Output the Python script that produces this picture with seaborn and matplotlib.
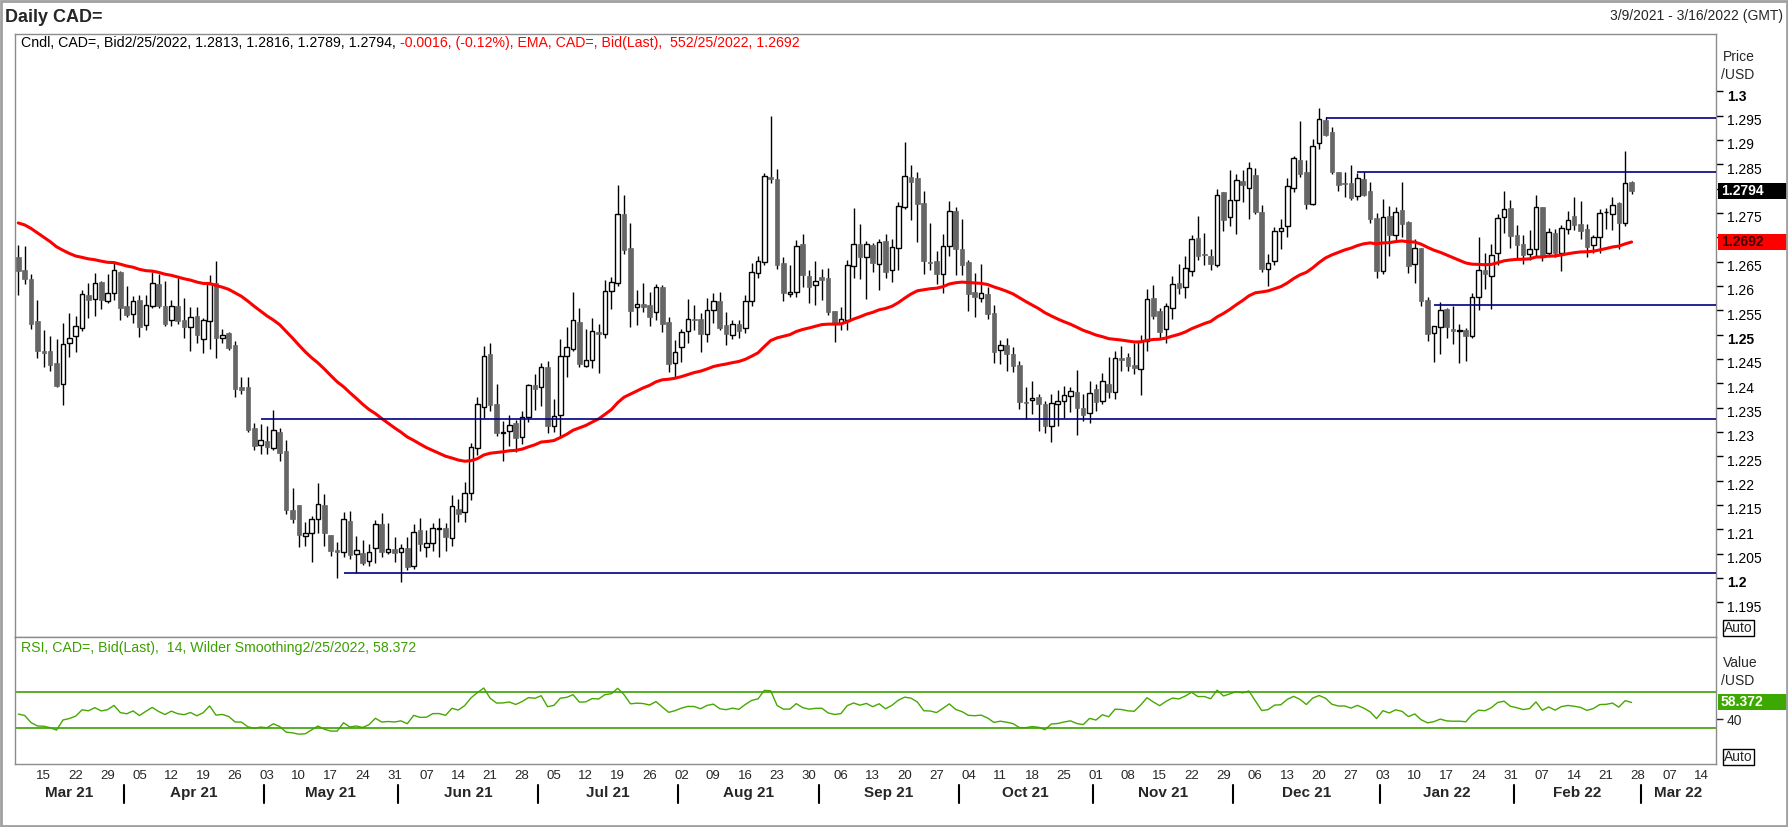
import numpy as np
import pandas as pd
import matplotlib
matplotlib.use("Agg")
import matplotlib.pyplot as plt
import seaborn as sns
from matplotlib.patches import Rectangle
from matplotlib import transforms as mtrans

# ---------------- data ----------------
start_date = "2021-03-09"
axis_end_date = "2022-03-16"

opens = [
1.2659,1.2633,1.2614,1.2528,1.2466,1.2466,1.2442,1.2398,1.2482,1.2498,
1.2513,1.2581,1.2573,1.2608,1.2568,1.2585,1.2629,1.2559,1.2542,1.2571,
1.2519,1.2559,1.2603,1.2559,1.2529,1.2559,1.2530,1.2515,1.2538,1.2490,
1.2527,1.2605,1.2492,1.2503,1.2479,1.2392,1.2392,1.2308,1.2274,1.2281,
1.2268,1.2300,1.2261,1.2140,1.2150,1.2087,1.2092,1.2122,1.2150,1.2088,
1.2057,1.2054,1.2117,1.2050,1.2051,1.2034,1.2061,1.2110,1.2053,1.2059,
1.2053,1.2061,1.2024,1.2098,1.2064,1.2071,1.2101,1.2102,1.2083,1.2142,
1.2135,1.2174,1.2268,1.2352,1.2460,1.2357,1.2298,1.2302,1.2318,1.2289,
1.2330,1.2396,1.2392,1.2433,1.2313,1.2334,1.2457,1.2471,1.2526,1.2435,
1.2447,1.2505,1.2502,1.2589,1.2605,1.2747,1.2678,1.2556,1.2562,1.2560,
1.2546,1.2598,1.2526,1.2441,1.2474,1.2507,1.2533,1.2532,1.2502,1.2550,
1.2568,1.2519,1.2500,1.2521,1.2513,1.2568,1.2626,1.2650,1.2824,1.2820,
1.2647,1.2583,1.2587,1.2686,1.2621,1.2601,1.2618,1.2616,1.2548,1.2523,
1.2531,1.2640,1.2687,1.2660,1.2684,1.2646,1.2692,1.2632,1.2677,1.2763,
1.2824,1.2822,1.2770,1.2650,1.2651,1.2625,1.2683,1.2753,1.2676,1.2649,
1.2587,1.2576,1.2583,1.2544,1.2468,1.2478,1.2460,1.2437,1.2362,1.2365,
1.2372,1.2357,1.2313,1.2357,1.2363,1.2373,1.2382,1.2350,1.2338,1.2388,
1.2363,1.2398,1.2383,1.2452,1.2455,1.2437,1.2430,1.2486,1.2575,1.2548,
1.2511,1.2554,1.2607,1.2597,1.2630,1.2698,1.2665,1.2661,1.2644,1.2793,
1.2741,1.2776,1.2815,1.2802,1.2828,1.2752,1.2634,1.2652,1.2712,1.2724,
1.2802,1.2859,1.2834,1.2769,1.2893,1.2941,1.2916,1.2834,1.2811,1.2811,
1.2784,1.2820,1.2795,1.2739,1.2630,1.2744,1.2704,1.2756,1.2731,1.2646,
1.2678,1.2571,1.2504,1.2515,1.2552,1.2511,1.2508,1.2509,1.2498,1.2578,
1.2633,1.2620,1.2667,1.2741,1.2760,1.2704,1.2687,1.2666,1.2675,1.2762,
1.2668,1.2709,1.2667,1.2717,1.2744,1.2727,1.2717,1.2685,1.2700,1.2751,
1.2747,1.2770,1.2730,1.2813]

highs = [
1.2684,1.2682,1.2624,1.2571,1.2509,1.2497,1.2490,1.2523,1.2544,1.2538,
1.2592,1.2606,1.2626,1.2610,1.2624,1.2648,1.2630,1.2600,1.2579,1.2581,
1.2581,1.2629,1.2625,1.2610,1.2571,1.2617,1.2575,1.2557,1.2557,1.2535,
1.2622,1.2651,1.2512,1.2505,1.2486,1.2412,1.2413,1.2318,1.2316,1.2312,
1.2345,1.2308,1.2283,1.2185,1.2150,1.2116,1.2128,1.2195,1.2172,1.2088,
1.2073,1.2135,1.2138,1.2087,1.2078,1.2070,1.2119,1.2133,1.2113,1.2085,
1.2070,1.2084,1.2111,1.2124,1.2098,1.2112,1.2124,1.2112,1.2170,1.2163,
1.2197,1.2277,1.2372,1.2476,1.2483,1.2398,1.2322,1.2335,1.2324,1.2343,
1.2398,1.2419,1.2441,1.2446,1.2368,1.2491,1.2515,1.2587,1.2555,1.2511,
1.2535,1.2522,1.2612,1.2618,1.2807,1.2787,1.2729,1.2592,1.2606,1.2587,
1.2603,1.2602,1.2536,1.2489,1.2511,1.2573,1.2560,1.2544,1.2576,1.2585,
1.2587,1.2546,1.2530,1.2530,1.2582,1.2647,1.2661,1.2831,1.2950,1.2840,
1.2660,1.2642,1.2694,1.2707,1.2633,1.2651,1.2635,1.2637,1.2548,1.2557,
1.2653,1.2760,1.2727,1.2692,1.2689,1.2696,1.2707,1.2697,1.2772,1.2895,
1.2848,1.2833,1.2795,1.2729,1.2672,1.2707,1.2774,1.2762,1.2737,1.2653,
1.2626,1.2645,1.2598,1.2561,1.2489,1.2494,1.2474,1.2446,1.2392,1.2404,
1.2378,1.2363,1.2378,1.2387,1.2394,1.2392,1.2427,1.2378,1.2405,1.2399,
1.2421,1.2454,1.2467,1.2476,1.2462,1.2483,1.2499,1.2594,1.2602,1.2554,
1.2565,1.2620,1.2645,1.2661,1.2705,1.2744,1.2709,1.2676,1.2799,1.2793,
1.2838,1.2830,1.2838,1.2855,1.2842,1.2766,1.2665,1.2721,1.2737,1.2822,
1.2867,1.2939,1.2859,1.2902,1.2965,1.2948,1.2926,1.2834,1.2834,1.2848,
1.2831,1.2835,1.2813,1.2750,1.2778,1.2764,1.2763,1.2813,1.2733,1.2696,
1.2678,1.2578,1.2518,1.2566,1.2555,1.2559,1.2522,1.2513,1.2585,1.2700,
1.2667,1.2687,1.2748,1.2796,1.2776,1.2725,1.2704,1.2715,1.2786,1.2762,
1.2720,1.2717,1.2726,1.2754,1.2783,1.2774,1.2727,1.2704,1.2759,1.2760,
1.2783,1.2772,1.2878,1.2816]

lows = [
1.2581,1.2603,1.2511,1.2452,1.2434,1.2426,1.2392,1.2356,1.2453,1.2465,
1.2508,1.2535,1.2539,1.2553,1.2564,1.2572,1.2531,1.2537,1.2523,1.2496,
1.2509,1.2555,1.2555,1.2518,1.2518,1.2522,1.2492,1.2467,1.2482,1.2463,
1.2471,1.2451,1.2482,1.2468,1.2372,1.2379,1.2300,1.2263,1.2255,1.2255,
1.2263,1.2241,1.2132,1.2112,1.2064,1.2066,1.2033,1.2092,1.2066,1.2046,
1.1999,1.2044,1.2040,1.2011,1.2026,1.2025,1.2030,1.2044,1.2050,1.2033,
1.1992,1.2016,1.2018,1.2056,1.2044,1.2056,1.2044,1.2056,1.2065,1.2116,
1.2116,1.2161,1.2252,1.2328,1.2343,1.2292,1.2241,1.2271,1.2259,1.2276,
1.2321,1.2345,1.2353,1.2298,1.2300,1.2292,1.2413,1.2466,1.2434,1.2434,
1.2432,1.2422,1.2494,1.2552,1.2600,1.2666,1.2516,1.2520,1.2547,1.2518,
1.2530,1.2506,1.2424,1.2413,1.2443,1.2482,1.2509,1.2465,1.2485,1.2523,
1.2509,1.2479,1.2491,1.2494,1.2503,1.2559,1.2616,1.2643,1.2811,1.2635,
1.2570,1.2578,1.2578,1.2598,1.2565,1.2561,1.2571,1.2540,1.2485,1.2509,
1.2509,1.2616,1.2614,1.2574,1.2629,1.2592,1.2616,1.2609,1.2632,1.2757,
1.2736,1.2691,1.2624,1.2633,1.2603,1.2586,1.2662,1.2622,1.2622,1.2549,
1.2537,1.2567,1.2533,1.2442,1.2439,1.2426,1.2423,1.2348,1.2326,1.2337,
1.2302,1.2298,1.2280,1.2313,1.2329,1.2341,1.2294,1.2323,1.2319,1.2343,
1.2358,1.2370,1.2368,1.2426,1.2426,1.2420,1.2376,1.2467,1.2533,1.2492,
1.2483,1.2533,1.2583,1.2576,1.2620,1.2654,1.2643,1.2633,1.2639,1.2713,
1.2723,1.2707,1.2773,1.2738,1.2748,1.2629,1.2600,1.2644,1.2676,1.2701,
1.2792,1.2824,1.2757,1.2767,1.2882,1.2908,1.2830,1.2796,1.2783,1.2776,
1.2777,1.2785,1.2730,1.2617,1.2624,1.2662,1.2694,1.2701,1.2627,1.2605,
1.2559,1.2487,1.2444,1.2461,1.2494,1.2480,1.2442,1.2445,1.2492,1.2550,
1.2593,1.2553,1.2644,1.2708,1.2677,1.2655,1.2646,1.2653,1.2659,1.2652,
1.2659,1.2660,1.2631,1.2706,1.2715,1.2697,1.2660,1.2667,1.2668,1.2717,
1.2714,1.2676,1.2724,1.2789]

closes = [
1.2631,1.2615,1.2522,1.2467,1.2463,1.2438,1.2395,1.2480,1.2494,1.2517,
1.2583,1.2572,1.2607,1.2572,1.2585,1.2632,1.2555,1.2541,1.2570,1.2516,
1.2560,1.2605,1.2559,1.2522,1.2558,1.2527,1.2516,1.2537,1.2500,1.2529,
1.2603,1.2492,1.2500,1.2472,1.2389,1.2387,1.2304,1.2272,1.2283,1.2270,
1.2303,1.2257,1.2140,1.2122,1.2089,1.2092,1.2122,1.2153,1.2093,1.2056,
1.2054,1.2122,1.2048,1.2057,1.2030,1.2053,1.2110,1.2054,1.2059,1.2052,
1.2061,1.2023,1.2094,1.2070,1.2071,1.2102,1.2103,1.2085,1.2147,1.2131,
1.2174,1.2270,1.2357,1.2457,1.2355,1.2298,1.2300,1.2315,1.2288,1.2330,
1.2396,1.2389,1.2433,1.2313,1.2332,1.2457,1.2474,1.2529,1.2440,1.2447,
1.2507,1.2502,1.2589,1.2609,1.2747,1.2674,1.2549,1.2562,1.2557,1.2537,
1.2597,1.2522,1.2439,1.2465,1.2505,1.2533,1.2531,1.2502,1.2550,1.2570,
1.2514,1.2502,1.2521,1.2508,1.2568,1.2628,1.2652,1.2825,1.2820,1.2642,
1.2586,1.2587,1.2681,1.2623,1.2598,1.2611,1.2613,1.2546,1.2523,1.2533,
1.2644,1.2687,1.2660,1.2687,1.2648,1.2691,1.2629,1.2679,1.2765,1.2825,
1.2814,1.2769,1.2652,1.2648,1.2625,1.2683,1.2753,1.2676,1.2643,1.2584,
1.2578,1.2585,1.2542,1.2465,1.2478,1.2461,1.2436,1.2362,1.2360,1.2369,
1.2357,1.2313,1.2359,1.2363,1.2375,1.2384,1.2350,1.2335,1.2381,1.2362,
1.2404,1.2383,1.2451,1.2448,1.2436,1.2432,1.2487,1.2574,1.2539,1.2506,
1.2559,1.2603,1.2596,1.2636,1.2696,1.2662,1.2663,1.2646,1.2787,1.2736,
1.2776,1.2817,1.2807,1.2842,1.2752,1.2635,1.2648,1.2712,1.2718,1.2805,
1.2862,1.2829,1.2769,1.2887,1.2942,1.2910,1.2833,1.2808,1.2809,1.2781,
1.2821,1.2787,1.2738,1.2631,1.2741,1.2704,1.2751,1.2728,1.2641,1.2677,
1.2570,1.2502,1.2517,1.2550,1.2515,1.2508,1.2509,1.2498,1.2578,1.2632,
1.2625,1.2663,1.2739,1.2759,1.2702,1.2685,1.2663,1.2675,1.2763,1.2663,
1.2710,1.2668,1.2718,1.2735,1.2726,1.2713,1.2679,1.2700,1.2749,1.2752,
1.2767,1.2730,1.2811,1.2794]

# indicator settings and starting state
ema_period = 55
ema_before_start = 1.2733
rsi_period = 14
rsi_prev_close = 1.2660
rsi_avg_gain_start = 0.0017
rsi_avg_loss_start = 0.0018

# horizontal trend lines: level and the date they start from
line_levels = [1.2011, 1.2326, 1.2944, 1.2835, 1.2561]
line_start_dates = ["2021-05-19", "2021-04-30", "2021-12-21", "2021-12-28", "2022-01-13"]

# price axis tick values, and those hidden behind the last-value boxes
price_ticks = [1.195, 1.2, 1.205, 1.21, 1.215, 1.22, 1.225, 1.23, 1.235, 1.24, 1.245,
               1.25, 1.255, 1.26, 1.265, 1.27, 1.275, 1.28, 1.285, 1.29, 1.295, 1.3]
bold_ticks = [1.2, 1.25, 1.3]
hidden_ticks = [1.27, 1.28]
rsi_ticks = [40]
rsi_bands = [70, 30]

# header texts
title_text = "Daily CAD="
range_text = "3/9/2021 - 3/16/2022 (GMT)"
cndl_text = "Cndl, CAD=, Bid2/25/2022, 1.2813, 1.2816, 1.2789, 1.2794, "
ema_text = "-0.0016, (-0.12%), EMA, CAD=, Bid(Last),  552/25/2022, 1.2692"
rsi_text = "RSI, CAD=, Bid(Last),  14, Wilder Smoothing2/25/2022, 58.372"
last_close_label = "1.2794"
last_ema_label = "1.2692"
last_rsi_label = "58.372"

# ---------------- derived series ----------------
o = np.array(opens); h = np.array(highs); l = np.array(lows); c = np.array(closes)
n = len(c)
idx = np.arange(n)
dates = pd.bdate_range(start_date, periods=n)
ext_dates = pd.bdate_range(start_date, axis_end_date)

alpha = 2.0 / (ema_period + 1)
ema = []
prev = ema_before_start
for v in closes:
    prev = prev + alpha * (v - prev)
    ema.append(prev)
ema = np.array(ema)

rsi = []
ag, al, pc = rsi_avg_gain_start, rsi_avg_loss_start, rsi_prev_close
for v in closes:
    d = v - pc
    ag = (ag * (rsi_period - 1) + max(d, 0)) / rsi_period
    al = (al * (rsi_period - 1) + max(-d, 0)) / rsi_period
    rsi.append(100 * ag / (ag + al))
    pc = v
rsi = np.array(rsi)

# ---------------- figure ----------------
sns.set_style("white")
plt.rcParams['font.family'] = ['Liberation Sans', 'DejaVu Sans']

W, H = 1788, 827
fig = plt.figure(figsize=(W / 100, H / 100), dpi=100)
fig.patch.set_facecolor("white")

def fx(px):
    return px / W

def fy(py):
    return 1 - py / H

L, R = 15, 1716
T1, B1, B2 = 34, 637, 764
ax1 = fig.add_axes([fx(L), fy(B1), fx(R - L), (B1 - T1) / H])
ax2 = fig.add_axes([fx(L), fy(B2), fx(R - L), (B2 - B1) / H], sharex=ax1)

x_min, x_max = -0.52, 266.24
y1_min, y1_max = 1.18788, 1.31175
y2_min, y2_max = -9, 130
ax1.set_xlim(x_min, x_max)
ax1.set_ylim(y1_min, y1_max)
ax2.set_ylim(y2_min, y2_max)

spine_col = "#8c8c8c"
for ax in (ax1, ax2):
    ax.set_facecolor("white")
    for s in ax.spines.values():
        s.set_color(spine_col)
        s.set_linewidth(1)
    ax.grid(False)

# candles
up = c >= o
ax1.vlines(idx, l, h, color="black", lw=1, zorder=2)
body_bot = np.minimum(o, c)
body_h = np.maximum(np.abs(c - o), 0.00012)
ax1.bar(idx[~up], body_h[~up], bottom=body_bot[~up], width=0.72,
        color="#666666", edgecolor="#666666", lw=0.5, zorder=3)
ax1.bar(idx[up], body_h[up], bottom=body_bot[up], width=0.72,
        facecolor="white", edgecolor="black", lw=1.0, zorder=3)

# EMA
sns.lineplot(x=idx, y=ema, ax=ax1, color="#ff0000", lw=2.2, zorder=4, errorbar=None)

# trend lines
for lvl, sd in zip(line_levels, line_start_dates):
    x0 = dates.get_loc(pd.Timestamp(sd))
    ax1.hlines(lvl, x0, x_max, color="#000080", lw=1.2, zorder=5)

# price axis
ax1.yaxis.tick_right()
ax1.set_yticks(price_ticks)
tick_labels = []
for v in price_ticks:
    if any(abs(v - hv) < 1e-9 for hv in hidden_ticks):
        tick_labels.append("")
    else:
        tick_labels.append(f"{v:.3f}".rstrip("0").rstrip("."))
ax1.set_yticklabels(tick_labels)
for lab, v in zip(ax1.get_yticklabels(), price_ticks):
    if any(abs(v - bv) < 1e-9 for bv in bold_ticks):
        lab.set_fontweight("bold")
ax1.tick_params(axis="y", direction="out", length=5, width=1, labelsize=10,
                pad=3, colors="black")
ax1.tick_params(axis="x", which="both", bottom=False, top=False,
                labelbottom=False, labeltop=False)
shift = mtrans.ScaledTranslation(0, -4 / 100, fig.dpi_scale_trans)
for lab in ax1.get_yticklabels():
    lab.set_transform(lab.get_transform() + shift)

# RSI panel
sns.lineplot(x=idx, y=rsi, ax=ax2, color="#46a800", lw=1.0, errorbar=None)
for band in rsi_bands:
    ax2.axhline(band, color="#3ca000", lw=1.2)
ax2.yaxis.tick_right()
ax2.set_yticks(rsi_ticks)
ax2.set_yticklabels([str(t) for t in rsi_ticks])
ax2.tick_params(axis="y", direction="out", length=5, width=1, labelsize=10, pad=3)

# x axis: Mondays labelled, month boundaries ticked
mondays = [i for i, d in enumerate(ext_dates) if d.weekday() == 0]
ax2.set_xticks(mondays, labels=[f"{ext_dates[i].day:02d}" for i in mondays], minor=True)
bounds = [i - 0.5 for i in range(1, len(ext_dates)) if ext_dates[i].month != ext_dates[i - 1].month]
ax2.set_xticks(bounds, labels=[""] * len(bounds))
ax2.tick_params(axis="x", which="minor", length=0, labelsize=9.5, pad=4)
ax2.tick_params(axis="x", which="major", length=4, width=1, direction="out", colors="black")
ax1.tick_params(axis="x", which="both", bottom=False, top=False,
                labelbottom=False, labeltop=False)
ax2.set_xlabel("")
ax2.set_ylabel("")
ax1.set_xlabel("")
ax1.set_ylabel("")

xt = ax2.get_xaxis_transform()
y_sep0 = (B2 - 785) / (B2 - B1)
y_sep1 = (B2 - 803) / (B2 - B1)
y_mon = (B2 - 793) / (B2 - B1)
for b in bounds:
    ax2.plot([b, b], [y_sep0, y_sep1], color="black", lw=1.5, transform=xt, clip_on=False)
edges = [x_min] + bounds + [x_max]
month_starts = [0] + [int(b + 0.5) for b in bounds]
for k, ms in enumerate(month_starts):
    xc = 0.5 * (edges[k] + edges[k + 1])
    ax2.text(xc, y_mon, ext_dates[ms].strftime("%b %y"), transform=xt, ha="center",
             va="center", fontsize=11, fontweight="bold", clip_on=False)

# header texts
fig.text(fx(5), fy(17), title_text, fontsize=13, fontweight="bold", va="center", ha="left")
fig.text(fx(1783), fy(16), range_text, fontsize=10, va="center", ha="right")
t1 = fig.text(fx(21), fy(43), cndl_text, fontsize=10.2, va="center", ha="left", color="black")
ax1.annotate(ema_text, xy=(1, 0.5), xycoords=t1, va="center", ha="left",
             fontsize=10.2, color="#ff0000", annotation_clip=False)
fig.text(fx(21), fy(648), rsi_text, fontsize=10.2, va="center", ha="left", color="#3ca000")

# axis side labels
fig.text(fx(1723), fy(57), "Price", fontsize=10, va="center", ha="left")
fig.text(fx(1721), fy(75), "/USD", fontsize=10, va="center", ha="left")
fig.text(fx(1723), fy(663), "Value", fontsize=10, va="center", ha="left")
fig.text(fx(1721), fy(681), "/USD", fontsize=10, va="center", ha="left")
for yy in (628, 757):
    fig.text(fx(1724), fy(yy), "Auto", fontsize=10, va="center", ha="left",
             bbox=dict(boxstyle="square,pad=0.1", fc="white", ec="black", lw=1))

# last value boxes
bt1 = mtrans.blended_transform_factory(fig.transFigure, ax1.transData)
bt2 = mtrans.blended_transform_factory(fig.transFigure, ax2.transData)
ppu1 = (B1 - T1) / (y1_max - y1_min)
ppu2 = (B2 - B1) / (y2_max - y2_min)
boxes = [
    (ax1, bt1, c[-1], 16 / ppu1, "black", last_close_label, "white"),
    (ax1, bt1, ema[-1], 16 / ppu1, "#ff0000", last_ema_label, "#3a0000"),
    (ax2, bt2, rsi[-1], 16 / ppu2, "#3ca800", last_rsi_label, "white"),
]
for ax, tr, val, hh, fc, txt, tc in boxes:
    ax.add_patch(Rectangle((fx(1718), val - hh / 2), fx(1788) - fx(1718), hh,
                           transform=tr, facecolor=fc, edgecolor="none", clip_on=False, zorder=10))
    ax.text(fx(1721), val, txt, transform=tr, color=tc, fontsize=10, fontweight="bold",
            va="center", ha="left", clip_on=False, zorder=11)

# outer frame
fig.add_artist(Rectangle((0.0005, 0.001), 0.999, 0.998, transform=fig.transFigure,
                         fill=False, ec="#a0a0a0", lw=2))

fig.savefig("out.png", dpi=100)
